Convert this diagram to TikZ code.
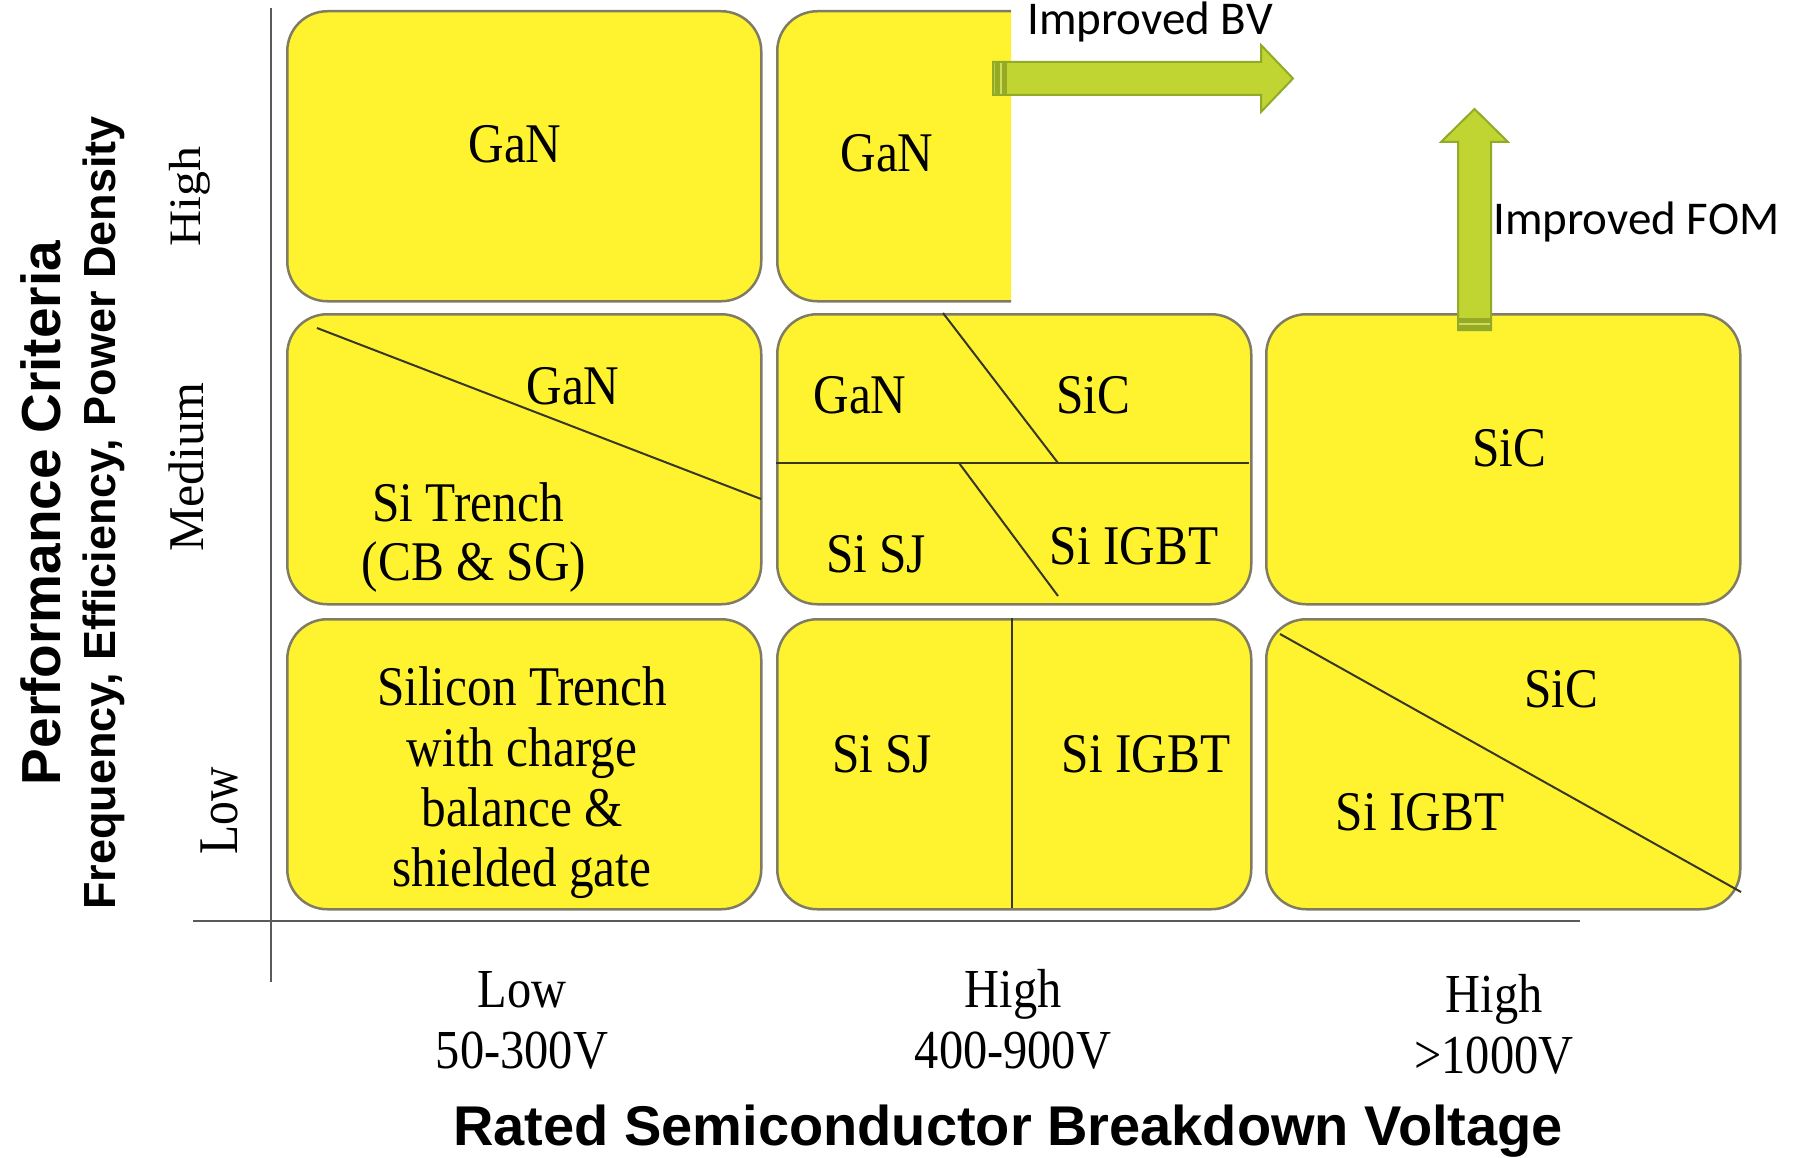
\documentclass[tikz,border=0pt]{standalone}
\usepackage{fontspec}
\usepackage{graphicx}
\setmainfont{Liberation Serif}
\newfontfamily\lblfont{Liberation Serif}[FakeStretch=0.88]
\newfontfamily\axfont{Liberation Sans}
\newfontfamily\calfont{Carlito}
\definecolor{boxfill}{RGB}{255,243,48}
\definecolor{boxedge}{RGB}{128,124,100}
\definecolor{divcol}{RGB}{55,55,35}
\definecolor{arrfill}{RGB}{192,212,50}
\definecolor{arredge}{RGB}{145,170,40}
\definecolor{arrdark}{RGB}{150,170,38}
\definecolor{axiscol}{RGB}{90,90,90}
\tikzset{
  cell/.style={draw=boxedge, line width=2.5pt, fill=boxfill, rounded corners=40pt,
    minimum width=474pt, minimum height=290pt, inner sep=0pt, anchor=north west},
  divline/.style={draw=divcol, line width=2pt},
  axisline/.style={draw=axiscol, line width=2.5pt},
  lbl/.style={font={\lblfont\fontsize{56}{60.3}\selectfont}, inner sep=0pt, anchor=base},
  xtick/.style={font={\lblfont\fontsize{55}{60}\selectfont}, inner sep=0pt, anchor=base},
  ytick/.style={font={\fontsize{50}{55}\selectfont}, inner sep=0pt, anchor=base, rotate=90},
  axtitle/.style={inner sep=0pt, anchor=base},
  bigarrow/.style={fill=arrfill, draw=arredge, line width=2pt, line join=miter},
  arrlabel/.style={font={\calfont\fontsize{47}{50}\selectfont}, inner sep=0pt, anchor=base west}
}
\begin{document}
\begin{tikzpicture}[x=1pt, y=-1pt]
\useasboundingbox (0,0) rectangle (1806,1158);
\fill[white] (0,0) rectangle (1806,1158);

% axes
\coordinate (vtop) at (271,8);
\coordinate (vbot) at (271,982);
\coordinate (hleft) at (193,921);
\coordinate (hright) at (1580,921);
\draw[axisline] (vtop) -- (vbot);
\draw[axisline] (hleft) -- (hright);

% row 1
\node[cell] (c11) at (286,10) {};
\begin{scope}
  \clip (700,0) rectangle (1011,320);
  \node[cell] (c12) at (776,10) {};
\end{scope}
% row 2
\node[cell] (c21) at (286,313) {};
\node[cell] (c22) at (776,313) {};
\node[cell] (c23) at (1265,313) {};
% row 3
\node[cell] (c31) at (286,618) {};
\node[cell] (c32) at (776,618) {};
\node[cell] (c33) at (1265,618) {};

% dividing lines
\draw[divline] (317,328) -- (761,499);
\draw[divline] (776,463) -- (1249,463);
\draw[divline] (943,313) -- (1058,463);
\draw[divline] (959,463) -- (1058,596);
\draw[divline] (1012,618) -- (1012,908);
\draw[divline] (1280,634) -- (1741,892);

% labels in cells
\node[lbl] (l11) at (515,163) {GaN};
\node[lbl] (l12) at (887,172) {GaN};
\node[lbl] (l21a) at (573,404) {GaN};
\node[lbl] (l21b) at (468,521) {Si Trench};
\node[lbl] (l21c) at (474,580) {(CB \& SG)};
\node[lbl] (l22a) at (860,413) {GaN};
\node[lbl] (l22b) at (1093,413) {SiC};
\node[lbl] (l22c) at (876,572) {Si SJ};
\node[lbl] (l22d) at (1134,564) {Si IGBT};
\node[lbl] (l23) at (1509,466) {SiC};
\node[lbl, anchor=center, align=center] (l31) at (522,783) {Silicon Trench\\with charge\\balance \&\\shielded gate};
\node[lbl] (l32a) at (882,772) {Si SJ};
\node[lbl] (l32b) at (1146,772) {Si IGBT};
\node[lbl] (l33a) at (1561,707) {SiC};
\node[lbl] (l33b) at (1420,830) {Si IGBT};

% y tick labels
\node[ytick] (yhigh) at (200,197) {\scalebox{1}[0.9]{High}};
\node[ytick] (ymed) at (203,467) {Medium};
\node[ytick, font={\fontsize{56}{60}\selectfont}] (ylow) at (237,811) {\scalebox{0.85}[1]{Low}};

% y axis titles
\node[axtitle, rotate=90, font={\axfont\bfseries\fontsize{55}{60}\selectfont}] (ytitle) at (60,513) {Performance Criteria};
\node[axtitle, rotate=90, font={\axfont\bfseries\fontsize{45}{50}\selectfont}] (ysub) at (115,513) {Frequency, Efficiency, Power Density};

% x tick labels
\node[xtick] (xlow1) at (522,1007) {Low};
\node[xtick] (xlow2) at (522,1068) {50-300V};
\node[xtick] (xmid1) at (1013,1007) {High};
\node[xtick] (xmid2) at (1013,1068) {400-900V};
\node[xtick] (xhi1) at (1494,1012) {High};
\node[xtick] (xhi2) at (1494,1073) {>1000V};

% x axis title
\node[axtitle, font={\axfont\bfseries\fontsize{56}{60}\selectfont}] (xtitle) at (1008,1145) {Rated Semiconductor Breakdown Voltage};

% arrows
\draw[bigarrow] (993,62) -- (1261,62) -- (1261,45) -- (1293,78.5) -- (1261,112) -- (1261,95) -- (993,95) -- cycle;
\fill[arrdark] (995,63) rectangle (1007,94);
\draw[arrfill!80!white, line width=1.5pt] (1001,63) -- (1001,94);
\draw[bigarrow] (1458,330) -- (1458,142) -- (1441,142) -- (1474.5,109) -- (1508,142) -- (1491,142) -- (1491,330) -- cycle;
\fill[arrdark] (1459,318) rectangle (1490,329);
\draw[arrfill!80!white, line width=1.5pt] (1459,324) -- (1490,324);

\node[arrlabel] (bv) at (1027,35) {Improved BV};
\node[arrlabel] (fom) at (1493,235) {Improved FOM};
\end{tikzpicture}
\end{document}
